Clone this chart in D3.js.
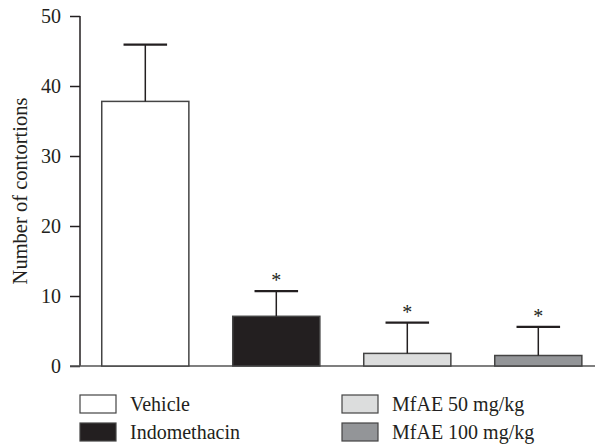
<!DOCTYPE html>
<html>
<head>
<meta charset="utf-8">
<script src="https://cdn.jsdelivr.net/npm/d3@7"></script>
<style>
  html, body { margin: 0; padding: 0; background: #fff; }
  svg { display: block; }
  svg text { font-family: "Liberation Serif", "Times New Roman", Times, "DejaVu Serif", serif; }
</style>
</head>
<body>
<svg id="chart" width="595" height="444"></svg>
<script>
// Writhing test: mean contortions per group with SEM
const groups = ["Vehicle", "Indomethacin", "MfAE 50 mg/kg", "MfAE 100 mg/kg"];
const means = [37.8, 7.1, 1.8, 1.5];
const errors = [8.1, 3.6, 4.4, 4.1];
const significant = [false, true, true, true];
const fills = ["#ffffff", "#231f20", "#dcdddd", "#939598"];
const yTicks = [0, 10, 20, 30, 40, 50];

const svg = d3.select("#chart");
const ink = "#231f20";
const serif = '"Liberation Serif", "Times New Roman", Times, "DejaVu Serif", serif';

const y = d3.scaleLinear().domain([0, 50]).range([366, 16]);
const x = d3.scaleBand().domain(groups).range([80, 603.6])
  .paddingInner(0.335).paddingOuter(0.166);

// y axis
const yAxis = d3.axisLeft(y).tickValues(yTicks).tickSize(10).tickPadding(9);
const gy = svg.append("g").attr("transform", "translate(80,0)").call(yAxis)
  .attr("font-family", serif).attr("font-size", 20);
gy.select(".domain").attr("stroke", ink).attr("stroke-width", 1.5)
  .attr("d", "M0,16V366");
gy.selectAll(".tick line").attr("stroke", ink).attr("stroke-width", 1.5);
gy.selectAll(".tick text").attr("fill", ink);

// baseline
svg.append("line").attr("x1", 70).attr("x2", 595)
  .attr("y1", y(0)).attr("y2", y(0))
  .attr("stroke", "#555").attr("stroke-width", 1.5);

svg.append("text")
  .attr("transform", `translate(27,${y(25)}) rotate(-90)`)
  .attr("text-anchor", "middle")
  .attr("fill", ink)
  .style("font-size", "20.5px")
  .text("Number of contortions");

const data = groups.map((g, i) => ({ g, m: means[i], e: errors[i], s: significant[i], f: fills[i] }));

// bars
svg.append("g").selectAll("rect").data(data).join("rect")
  .attr("x", d => x(d.g))
  .attr("y", d => y(d.m))
  .attr("width", x.bandwidth())
  .attr("height", d => y(0) - y(d.m))
  .attr("fill", d => d.f)
  .attr("stroke", "#444")
  .attr("stroke-width", 1.5);

// upper error bars
const eb = svg.append("g").selectAll("g").data(data).join("g");
eb.append("line")
  .attr("x1", d => x(d.g) + x.bandwidth() / 2)
  .attr("x2", d => x(d.g) + x.bandwidth() / 2)
  .attr("y1", d => y(d.m))
  .attr("y2", d => y(d.m + d.e))
  .attr("stroke", ink).attr("stroke-width", 1.5);
eb.append("line")
  .attr("x1", d => x(d.g) + x.bandwidth() / 4)
  .attr("x2", d => x(d.g) + x.bandwidth() * 3 / 4)
  .attr("y1", d => y(d.m + d.e))
  .attr("y2", d => y(d.m + d.e))
  .attr("stroke", ink).attr("stroke-width", 2.2);

// significance marks
svg.append("g").selectAll("text").data(data.filter(d => d.s)).join("text")
  .attr("x", d => x(d.g) + x.bandwidth() / 2)
  .attr("y", d => y(d.m + d.e) - 4)
  .attr("text-anchor", "middle")
  .attr("fill", ink)
  .style("font-size", "20px")
  .text("*");

// legend
const legendCols = [80, 342];
const legendRows = [395, 423];
const legend = svg.append("g").selectAll("g").data(data).join("g")
  .attr("transform", (d, i) => `translate(${legendCols[Math.floor(i / 2)]},${legendRows[i % 2]})`);
legend.append("rect")
  .attr("width", 36).attr("height", 18)
  .attr("fill", d => d.f)
  .attr("stroke", "#444").attr("stroke-width", 1.2);
legend.append("text")
  .attr("x", 50).attr("y", 16)
  .attr("fill", ink)
  .style("font-size", "20px")
  .text(d => d.g);
</script>
</body>
</html>
